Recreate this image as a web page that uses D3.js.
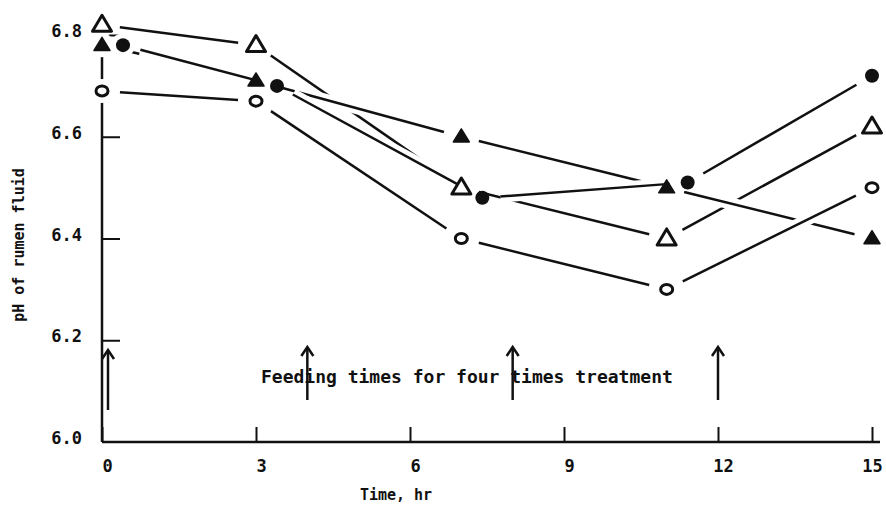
<!DOCTYPE html>
<html>
<head>
<meta charset="utf-8">
<script src="https://cdn.jsdelivr.net/npm/d3@7"></script>
<style>
  body { margin: 0; background: #fff; }
  text { font-family: "DejaVu Sans Mono", "Liberation Mono", monospace; fill: #111; }
</style>
</head>
<body>
<svg></svg>
<script>
width = 886;
height = 510;

// sampling times (hr) and pH of rumen fluid for the four treatments
let hours = [0, 3, 7, 11, 15];
let openTriangle = [6.82, 6.78, 6.50, 6.40, 6.62];
let filledTriangle = [6.78, 6.71, 6.60, 6.50, 6.40];
let filledCircle = [6.78, 6.70, 6.48, 6.51, 6.72];
let openCircle = [6.69, 6.67, 6.40, 6.30, 6.50];

let xTicks = [0, 3, 6, 9, 12, 15];
let yTicks = [6.0, 6.2, 6.4, 6.6, 6.8];
let feedTimes = [0, 4, 8, 12];

let svg = d3.select("svg").attr("width", width).attr("height", height);

let x = d3.scaleLinear().domain([0, 15]).range([102, 872]);
let y = d3.scaleLinear().domain([6.0, 6.8]).range([442, 35]);

let ink = "#111";

// axes
let xAxis = d3.axisBottom(x).tickValues(xTicks).tickSize(-15).tickFormat(d3.format("d"));
let gx = svg.append("g").attr("transform", "translate(0," + y(6.0) + ")").call(xAxis);
gx.select(".domain").attr("d", "M" + x(0) + ",0H880").style("stroke", ink).style("stroke-width", 2.5);
gx.selectAll(".tick line").style("stroke", ink).style("stroke-width", 2);
gx.selectAll(".tick text")
  .attr("dx", d => d === 15 ? 0 : 5).attr("y", 18)
  .style("font-size", "17px").style("font-weight", "bold");

let yAxis = d3.axisLeft(y).tickValues(yTicks).tickSize(-18).tickFormat(d3.format(".1f"));
let gy = svg.append("g").attr("transform", "translate(" + x(0) + ",0)").call(yAxis);
gy.select(".domain").attr("d", "M0," + y(6.0) + "V" + y(6.8)).style("stroke", ink).style("stroke-width", 2.5);
gy.selectAll(".tick line").style("stroke", ink).style("stroke-width", 2);
gy.selectAll(".tick").filter(d => d === 6.0).select("line").remove();
gy.selectAll(".tick text")
  .attr("x", -20).attr("dy", "0.1em")
  .style("font-size", "17px").style("font-weight", "bold");

svg.append("text")
  .attr("transform", "translate(24,245) rotate(-90)")
  .attr("text-anchor", "middle")
  .style("font-size", "15px").style("font-weight", "bold")
  .text("pH of rumen fluid");

svg.append("text")
  .attr("x", 396).attr("y", 500)
  .attr("text-anchor", "middle")
  .style("font-size", "15px").style("font-weight", "bold")
  .text("Time, hr");

// feeding annotation
svg.append("text")
  .attr("x", 261).attr("y", 383)
  .style("font-size", "18px").style("font-weight", "bold")
  .text("Feeding times for four times treatment");

let arrows = svg.append("g").style("stroke", ink).style("stroke-width", 2.5).style("fill", "none");
feedTimes.forEach(function (t) {
  let ax = x(t) + (t === 0 ? 6 : 0);
  let top = t === 0 ? 350 : 347;
  let bottom = t === 0 ? 410 : 400;
  arrows.append("line").attr("x1", ax).attr("x2", ax).attr("y1", top).attr("y2", bottom);
  arrows.append("path").attr("d", "M" + (ax - 6) + "," + (top + 9) + "L" + ax + "," + top + "L" + (ax + 6) + "," + (top + 9));
});

// series, drawn bottom to top so later lines cut gaps in earlier ones
let series = [
  { name: "openTriangle", values: openTriangle },
  { name: "filledTriangle", values: filledTriangle },
  { name: "filledCircle", values: filledCircle },
  { name: "openCircle", values: openCircle }
];

function px(s, i) {
  let nudge = (s.name === "filledCircle" && hours[i] < 15) ? 21 : 0;
  return x(hours[i]) + nudge;
}

let linesG = svg.append("g");
series.forEach(function (s) {
  for (let i = 0; i < hours.length - 1; i++) {
    let x1 = px(s, i), y1 = y(s.values[i]);
    let x2 = px(s, i + 1), y2 = y(s.values[i + 1]);
    let len = Math.hypot(x2 - x1, y2 - y1);
    let ux = (x2 - x1) / len, uy = (y2 - y1) / len;
    let cut = 18;
    let seg = [[x1 + ux * cut, y1 + uy * cut], [x2 - ux * cut, y2 - uy * cut]];
    linesG.append("path").attr("d", d3.line()(seg))
      .style("stroke", "#fff").style("stroke-width", 12).style("fill", "none");
    linesG.append("path").attr("d", d3.line()(seg))
      .style("stroke", ink).style("stroke-width", 2.5).style("fill", "none");
  }
});

// white halos at the first time point break the y axis like the original
let halo = svg.append("g");
series.forEach(function (s) {
  halo.append("circle")
    .attr("cx", px(s, 0)).attr("cy", y(s.values[0]))
    .attr("r", 12).style("fill", "#fff");
});

function triangle(w, h) {
  return "M0," + (-h * 0.6) + "L" + (w / 2) + "," + (h * 0.4) + "L" + (-w / 2) + "," + (h * 0.4) + "Z";
}

let marks = svg.append("g");
series.forEach(function (s) {
  s.values.forEach(function (v, i) {
    let g = marks.append("g").attr("transform", "translate(" + px(s, i) + "," + y(v) + ")");
    if (s.name === "openTriangle") {
      g.append("path").attr("d", triangle(19, 16))
        .style("fill", "#fff").style("stroke", ink).style("stroke-width", 3).style("stroke-linejoin", "round");
    } else if (s.name === "filledTriangle") {
      g.append("path").attr("d", triangle(16, 13))
        .style("fill", ink).style("stroke", ink).style("stroke-width", 1.5).style("stroke-linejoin", "round");
    } else if (s.name === "filledCircle") {
      g.append("circle").attr("r", 7).style("fill", ink);
    } else {
      g.append("ellipse").attr("rx", 6).attr("ry", 5)
        .style("fill", "#fff").style("stroke", ink).style("stroke-width", 3);
    }
  });
});
</script>
</body>
</html>
